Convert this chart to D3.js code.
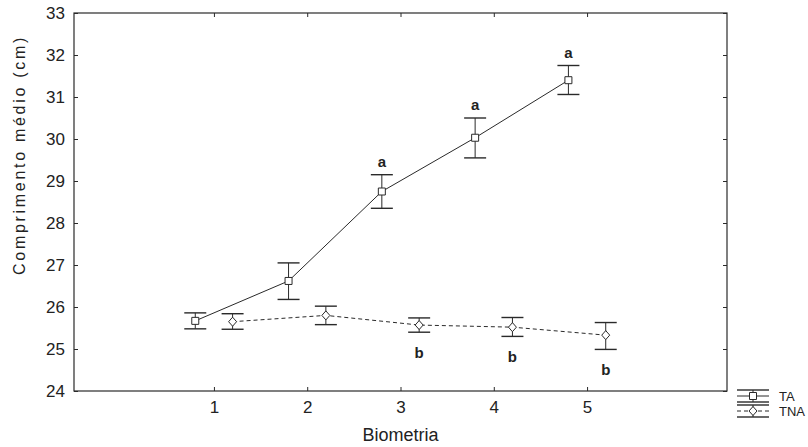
<!DOCTYPE html>
<html>
<head>
<meta charset="utf-8">
<script src="https://cdn.jsdelivr.net/npm/d3@7"></script>
<style>
	body { margin: 0; background: #fff; }
	text { font-family: "Liberation Sans", Arial, sans-serif; fill: #222; }
</style>
</head>
<body>
<svg id="chart" width="808" height="447"></svg>
<script>

// Data
const biometrias = [1, 2, 3, 4, 5];
const ta_mean  = [25.67, 26.62, 28.75, 30.03, 31.40];
const ta_lo    = [25.48, 26.18, 28.35, 29.55, 31.06];
const ta_hi    = [25.86, 27.05, 29.15, 30.50, 31.75];
const tna_mean = [25.65, 25.80, 25.57, 25.52, 25.33];
const tna_lo   = [25.47, 25.58, 25.40, 25.30, 24.99];
const tna_hi   = [25.84, 26.02, 25.74, 25.75, 25.63];
const ta_letters  = ["", "", "a", "a", "a"];
const tna_letters = ["", "", "b", "b", "b"];
const y_ticks = [24, 25, 26, 27, 28, 29, 30, 31, 32, 33];
const series_names = ["TA", "TNA"];

const svg = d3.select("#chart");
const plotLeft = 74, plotRight = 727, plotTop = 13, plotBottom = 391;
const stroke = "#2a2a2a";

const x = d3.scaleLinear().domain([-0.5, 6.5]).range([plotLeft, plotRight]);
const y = d3.scaleLinear().domain([24, 33]).range([plotBottom, plotTop]);

// frame
svg.append("rect")
	.attr("x", plotLeft).attr("y", plotTop)
	.attr("width", plotRight - plotLeft).attr("height", plotBottom - plotTop)
	.attr("fill", "none").attr("stroke", stroke).attr("stroke-width", 1.2);

// axes with inward ticks
const xAxis = svg.append("g")
	.attr("transform", "translate(0," + plotBottom + ")")
	.call(d3.axisBottom(x).tickValues(biometrias).tickFormat(d3.format("d"))
		.tickSizeInner(-4).tickSizeOuter(0).tickPadding(10));
const xTop = svg.append("g")
	.attr("transform", "translate(0," + plotTop + ")")
	.call(d3.axisTop(x).tickValues(biometrias).tickSizeInner(-4).tickSizeOuter(0).tickFormat(""));
const yAxis = svg.append("g")
	.attr("transform", "translate(" + plotLeft + ",0)")
	.call(d3.axisLeft(y).tickValues(y_ticks).tickFormat(d3.format("d"))
		.tickSizeInner(-4).tickSizeOuter(0).tickPadding(9));
const yRight = svg.append("g")
	.attr("transform", "translate(" + plotRight + ",0)")
	.call(d3.axisRight(y).tickValues(y_ticks).tickSizeInner(-4).tickSizeOuter(0).tickFormat(""));

[xAxis, xTop, yAxis, yRight].forEach(g => {
	g.select(".domain").remove();
	g.selectAll("line").attr("stroke", stroke);
	g.selectAll("text").style("font-size", "17px").attr("fill", "#222")
		.style("font-family", "'Liberation Sans', Arial, sans-serif");
});

// axis titles
svg.append("text")
	.attr("x", (plotLeft + plotRight) / 2).attr("y", 441)
	.attr("text-anchor", "middle")
	.style("font-size", "18px")
	.text("Biometria");

svg.append("text")
	.attr("transform", "translate(25,155) rotate(-90)")
	.attr("text-anchor", "middle")
	.style("font-size", "16px")
	.style("letter-spacing", "2.7px")
	.text("Comprimento médio (cm)");

function drawSeries(means, lo, hi, letters, offset, dashed, marker, letterAbove) {
	const pts = biometrias.map((b, i) => ({ b: b + offset, m: means[i], lo: lo[i], hi: hi[i], l: letters[i] }));
	const g = svg.append("g");

	g.append("path")
		.datum(pts)
		.attr("fill", "none")
		.attr("stroke", stroke)
		.attr("stroke-width", 1)
		.attr("stroke-dasharray", dashed ? "4,3" : null)
		.attr("d", d3.line().x(d => x(d.b)).y(d => y(d.m)));

	const cap = 11;
	const eb = g.selectAll(".eb").data(pts).enter().append("g");
	eb.append("line")
		.attr("x1", d => x(d.b)).attr("x2", d => x(d.b))
		.attr("y1", d => y(d.lo)).attr("y2", d => y(d.hi))
		.attr("stroke", stroke);
	eb.append("line")
		.attr("x1", d => x(d.b) - cap).attr("x2", d => x(d.b) + cap)
		.attr("y1", d => y(d.hi)).attr("y2", d => y(d.hi))
		.attr("stroke", stroke).attr("stroke-width", 1.4);
	eb.append("line")
		.attr("x1", d => x(d.b) - cap).attr("x2", d => x(d.b) + cap)
		.attr("y1", d => y(d.lo)).attr("y2", d => y(d.lo))
		.attr("stroke", stroke).attr("stroke-width", 1.4);

	g.selectAll(".mk").data(pts).enter().append("path")
		.attr("transform", d => "translate(" + x(d.b) + "," + y(d.m) + ")")
		.attr("d", marker)
		.attr("fill", "#fff").attr("stroke", stroke);

	g.selectAll(".lt").data(pts.filter(d => d.l)).enter().append("text")
		.attr("x", d => x(d.b))
		.attr("y", d => letterAbove ? y(d.hi) - 8 : y(d.lo) + 26)
		.attr("text-anchor", "middle")
		.style("font-size", "15px")
		.style("font-family", "'Liberation Sans Narrow', 'Liberation Sans', Arial, sans-serif")
		.style("font-weight", "bold")
		.text(d => d.l);
}

const squareMk = "M-3.5,-3.5H3.5V3.5H-3.5Z";
const diamondMk = "M0,-4.5L4,0L0,4.5L-4,0Z";

drawSeries(ta_mean, ta_lo, ta_hi, ta_letters, -0.2, false, squareMk, true);
drawSeries(tna_mean, tna_lo, tna_hi, tna_letters, 0.2, true, diamondMk, false);

// legend
const legend = svg.append("g").attr("transform", "translate(737,396)");
series_names.forEach((name, i) => {
	const lg = legend.append("g").attr("transform", "translate(0," + (i * 15) + ")");
	lg.append("line").attr("x1", 0).attr("x2", 32).attr("y1", -6).attr("y2", -6).attr("stroke", stroke).attr("stroke-width", 1.4);
	lg.append("line").attr("x1", 0).attr("x2", 32).attr("y1", 6).attr("y2", 6).attr("stroke", stroke).attr("stroke-width", 1.4);
	lg.append("line").attr("x1", 0).attr("x2", 32).attr("y1", 0).attr("y2", 0).attr("stroke", stroke)
		.attr("stroke-dasharray", i === 1 ? "4,3" : null);
	lg.append("line").attr("x1", 16).attr("x2", 16).attr("y1", -6).attr("y2", 6).attr("stroke", stroke);
	lg.append("path").attr("transform", "translate(16,0)")
		.attr("d", i === 0 ? squareMk : diamondMk)
		.attr("fill", "#fff").attr("stroke", stroke);
	lg.append("text").attr("x", 42).attr("y", 5)
		.style("font-size", "13px")
		.text(name);
});

</script>
</body>
</html>
